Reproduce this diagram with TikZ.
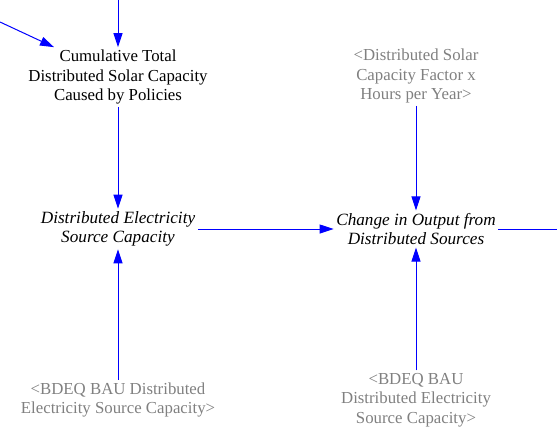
\documentclass[tikz,border=0pt]{standalone}
\usepackage{fontspec}
\setmainfont{Liberation Serif}
\usetikzlibrary{arrows.meta}
\begin{document}
\begin{tikzpicture}[x=1pt, y=-1pt,
    var/.style={align=center, font=\fontsize{16.8}{19.5}\selectfont, inner sep=2.5pt},
    ivar/.style={var, font=\fontsize{17.2}{19.5}\selectfont\itshape},
    shadow/.style={var, text=gray},
    link/.style={-{Triangle[length=14pt, width=9pt]}, blue, line width=1pt}]
    \useasboundingbox (0,0) rectangle (557,445);

    \node[var] (cumcap) at (118,77) {Cumulative Total\\Distributed Solar Capacity\\Caused by Policies};
    \node[shadow] (capfactor) at (416,76) {<Distributed Solar\\Capacity Factor x\\Hours per Year>};
    \node[ivar] (dcap) at (118,229) {Distributed Electricity\\Source Capacity};
    \node[ivar] (change) at (416,229) {Change in Output from\\Distributed Sources};
    \node[shadow] (bdeqcap) at (118,400) {<BDEQ BAU Distributed\\Electricity Source Capacity>};
    \node[shadow] (bdeqsrc) at (416,400) {<BDEQ BAU\\Distributed Electricity\\Source Capacity>};

    \coordinate (intop) at (118,0);
    \coordinate (inleft) at (0,22);
    \coordinate (outright) at (557,229);

    \draw[link] (intop) -- (cumcap);
    \draw[link] (inleft) -- (cumcap);
    \draw[link] (cumcap) -- (dcap);
    \draw[link] (dcap) -- (change);
    \draw[link] (capfactor) -- (change);
    \draw[link] (bdeqcap) -- (dcap);
    \draw[link] (bdeqsrc) -- (change);
    \draw[blue, line width=1pt] (change) -- (outright);
\end{tikzpicture}
\end{document}
